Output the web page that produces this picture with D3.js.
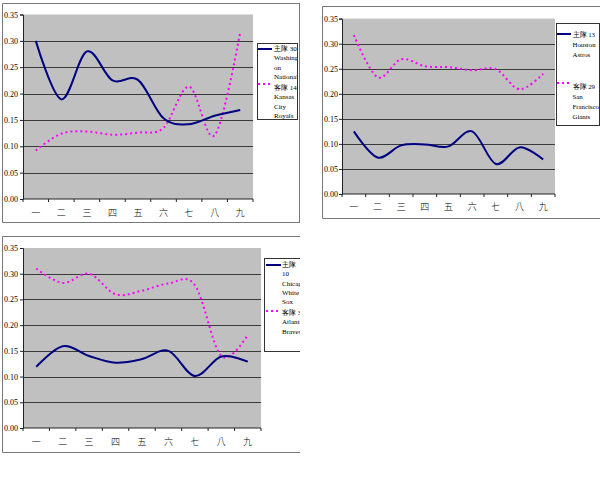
<!DOCTYPE html>
<html><head><meta charset="utf-8">
<script src="https://cdn.jsdelivr.net/npm/d3@7/dist/d3.min.js"></script>
<style>
html,body{margin:0;padding:0;background:#fff;}
svg{display:block;}
text{font-family:"Liberation Serif","DejaVu Serif",serif;fill:#000;}
.cat{font-family:"Noto Sans CJK TC","Noto Sans CJK SC",sans-serif;font-weight:300;}
</style>
</head><body>
<svg id="c" width="600" height="483"></svg>
<script>
// ---------- data ----------
const categories = ["一","二","三","四","五","六","七","八","九"];
const yTickValues = [0, 0.05, 0.10, 0.15, 0.20, 0.25, 0.30, 0.35];

const nationals = [0.300, 0.189, 0.280, 0.225, 0.226, 0.153, 0.142, 0.158, 0.169];
const royals    = [0.092, 0.124, 0.128, 0.122, 0.126, 0.135, 0.213, 0.121, 0.317];

const astros    = [0.125, 0.073, 0.097, 0.099, 0.095, 0.125, 0.060, 0.093, 0.069];
const giants    = [0.317, 0.233, 0.269, 0.255, 0.253, 0.247, 0.249, 0.209, 0.240];

const whiteSox  = [0.119, 0.159, 0.140, 0.127, 0.134, 0.150, 0.101, 0.139, 0.129];
const braves    = [0.310, 0.282, 0.300, 0.260, 0.267, 0.281, 0.278, 0.140, 0.181];

const legend1Home = ["主隊 30", "Washingt", "on", "Nationals"];
const legend1Away = ["客隊 14", "Kansas", "City", "Royals"];
const legend2Home = ["主隊 13", "Houston", "Astros"];
const legend2Away = ["客隊 29", "San", "Francisco", "Giants"];
const legend3Home = ["主隊", "10", "Chicago", "White", "Sox"];
const legend3Away = ["客隊 3", "Atlanta", "Braves"];

// ---------- layout ----------
const charts = [
  { frame:{x:2,y:3,w:297,h:219, right:true}, clipW:null,
    plot:{x0:23,x1:253,yTop:14.5,yBot:199}, tickRight:18, catY:212,
    home:nationals, away:royals,
    legend:{x:257,y:43,w:40,h:76,sx0:258,sx1:272,tx:274,fs:7,
      home:{lines:legend1Home,sy:49,ty:48.5,lh:9.5}, away:{lines:legend1Away,sy:84,ty:87.5,lh:9.6}} },
  { frame:{x:322,y:6,w:290,h:212, right:false}, clipW:null,
    plot:{x0:342,x1:555,yTop:18.6,yBot:194}, tickRight:338, catY:206,
    home:astros, away:giants,
    legend:{x:556,y:23,w:43,h:102,sx0:557,sx1:571,tx:572.5,fs:6.8,
      home:{lines:legend2Home,sy:34,ty:34,lh:10}, away:{lines:legend2Away,sy:83,ty:86,lh:10}} },
  { frame:{x:2,y:236,w:310,h:216, right:false}, clipW:300,
    plot:{x0:23,x1:261,yTop:248,yBot:428}, tickRight:18, catY:441,
    home:whiteSox, away:braves,
    legend:{x:264,y:258,w:50,h:93,sx0:266,sx1:281,tx:282,fs:7,
      home:{lines:legend3Home,sy:265,ty:265,lh:9.3}, away:{lines:legend3Away,sy:311,ty:312.5,lh:9.5}} }
];

const svg = d3.select("#c");
const defs = svg.append("defs");

charts.forEach((c, i) => {
  let g = svg.append("g");
  if (c.clipW) {
    defs.append("clipPath").attr("id","clipc"+i).append("rect")
      .attr("x",0).attr("y",c.frame.y-2).attr("width",c.clipW).attr("height",c.frame.h+4);
    g.attr("clip-path","url(#clipc"+i+")");
  }
  // frame
  const f = c.frame;
  const fp = d3.path();
  fp.moveTo(f.x+f.w, f.y+0.5); fp.lineTo(f.x+0.5, f.y+0.5); fp.lineTo(f.x+0.5, f.y+f.h+0.5); fp.lineTo(f.x+f.w, f.y+f.h+0.5);
  if (f.right) { fp.moveTo(f.x+f.w+0.5, f.y); fp.lineTo(f.x+f.w+0.5, f.y+f.h+1); }
  g.append("path").attr("d", fp.toString()).attr("fill","none").attr("stroke","#777").attr("stroke-width",1);

  const x = d3.scaleBand().domain(categories).range([c.plot.x0, c.plot.x1]).padding(0);
  const y = d3.scaleLinear().domain([0, 0.35]).range([c.plot.yBot, c.plot.yTop]);

  // plot area
  g.append("rect").attr("x", c.plot.x0).attr("y", y(0.35))
    .attr("width", c.plot.x1 - c.plot.x0).attr("height", y(0) - y(0.35)).attr("fill", "#C0C0C0");

  // gridlines
  g.selectAll(".grid").data(yTickValues.filter(v => v > 0 && v < 0.35)).enter().append("line")
    .attr("x1", c.plot.x0).attr("x2", c.plot.x1)
    .attr("y1", d => Math.round(y(d)) + 0.5).attr("y2", d => Math.round(y(d)) + 0.5)
    .attr("stroke", "#3a3a3a").attr("stroke-width", 1.2);

  // y axis
  const yAxis = d3.axisLeft(y).tickValues(yTickValues).tickFormat(d3.format(".2f")).tickSize(3).tickPadding(2);
  const ya = g.append("g").attr("transform", `translate(${c.plot.x0},0)`).call(yAxis);
  ya.select(".domain").attr("stroke", "#222");
  ya.selectAll(".tick line").attr("stroke", "#222");
  ya.selectAll(".tick text").attr("font-size", "8px").attr("font-family", "Liberation Serif").attr("fill","#111")
    .attr("x", c.tickRight - c.plot.x0);

  // x axis
  const xa = g.append("g").attr("transform", `translate(0,${y(0)})`);
  xa.append("line").attr("x1", c.plot.x0).attr("x2", c.plot.x1).attr("stroke", "#222");
  xa.selectAll(".xt").data(d3.range(categories.length + 1)).enter().append("line")
    .attr("x1", d => c.plot.x0 + d * x.bandwidth()).attr("x2", d => c.plot.x0 + d * x.bandwidth())
    .attr("y1", 0).attr("y2", 3).attr("stroke", "#222");
  g.selectAll(".cat").data(categories).enter().append("text").attr("class","cat")
    .attr("x", d => x(d) + x.bandwidth() / 2).attr("y", c.catY)
    .attr("text-anchor","middle").attr("dominant-baseline","central")
    .attr("font-size","9px").attr("fill","#222").text(d => d);

  // lines
  const line = d3.line().x((d, j) => x(categories[j]) + x.bandwidth() / 2).y(d => y(d))
    .curve(d3.curveCatmullRom.alpha(0));
  g.append("path").datum(c.away).attr("d", line).attr("fill","none")
    .attr("stroke","#FF00FF").attr("stroke-width",2).attr("stroke-dasharray","2,3");
  g.append("path").datum(c.home).attr("d", line).attr("fill","none")
    .attr("stroke","#000080").attr("stroke-width",2);

  // legend
  const L = c.legend;
  defs.append("clipPath").attr("id","clipl"+i).append("rect")
    .attr("x", L.x).attr("y", L.y).attr("width", L.w).attr("height", L.h);
  const lg = g.append("g");
  lg.append("rect").attr("x", L.x + 0.5).attr("y", L.y + 0.5).attr("width", L.w).attr("height", L.h)
    .attr("fill","#fff").attr("stroke","#333").attr("stroke-width",1);
  const lt = lg.append("g").attr("clip-path","url(#clipl"+i+")");
  [["home","#000080",null],["away","#FF00FF","2,3"]].forEach(([k,col,dash]) => {
    const e = L[k];
    const s = lg.append("line").attr("x1", L.sx0).attr("x2", L.sx1).attr("y1", e.sy).attr("y2", e.sy)
      .attr("stroke", col).attr("stroke-width", 2);
    if (dash) s.attr("stroke-dasharray", dash);
    const t = lt.append("text").attr("font-size", L.fs + "px");
    e.lines.forEach((ln, j) => {
      t.append("tspan").attr("x", L.tx).attr("y", e.ty + j * e.lh).attr("dominant-baseline","central").text(ln);
    });
  });
});
</script>
</body></html>
